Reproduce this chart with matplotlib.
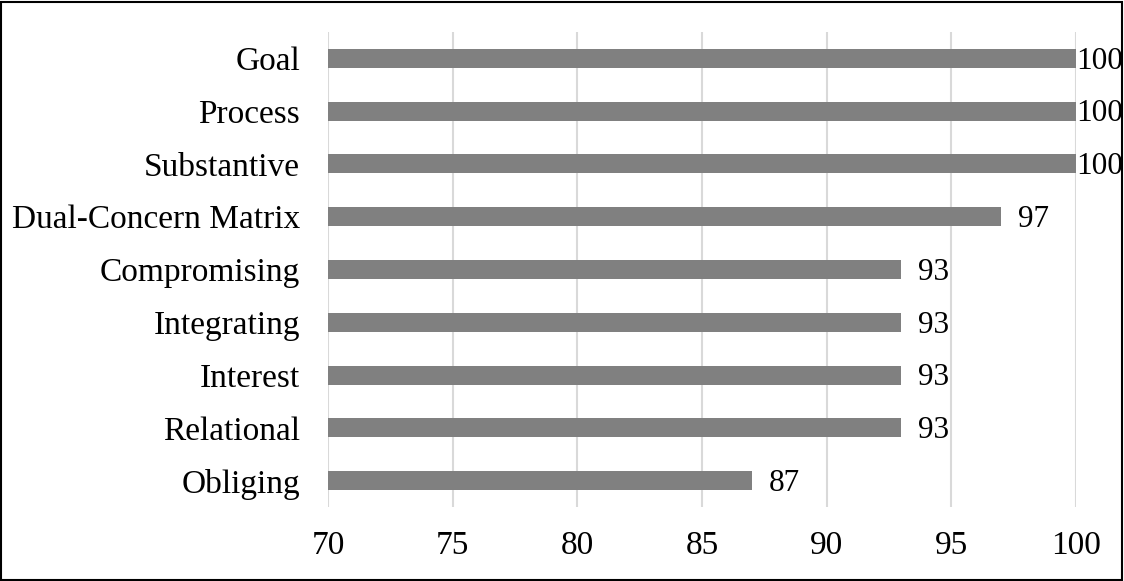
import matplotlib.pyplot as plt
from matplotlib.patches import Rectangle

categories = ['Goal', 'Process', 'Substantive', 'Dual-Concern Matrix', 'Compromising',
              'Integrating', 'Interest', 'Relational', 'Obliging']
values = [100, 100, 100, 97, 93, 93, 93, 93, 87]
xticks = [70, 75, 80, 85, 90, 95, 100]

plt.rcParams['font.family'] = ['Liberation Serif', 'DejaVu Serif']

fig = plt.figure(figsize=(11.24, 5.81), dpi=100)
ax = fig.add_axes([0.2918, 0.1274, 0.6655, 0.8176])

y = list(range(len(categories)))[::-1]
ax.barh(y, [v - 70 for v in values], left=70, height=0.36, color='#808080', zorder=3)

# value labels; the ones at the axis end sit right against the bar
for yi, v in zip(y, values):
    off = 0 if v == 100 else 12
    ax.annotate(str(v), (v, yi), xytext=(off, -2), textcoords='offset points',
                va='center', ha='left', fontsize=22.5)

ax.set_xlim(70, 100)
ax.set_ylim(-0.5, len(categories) - 0.5)
ax.set_xticks(xticks)
ax.set_yticks(y)
ax.set_yticklabels(categories)
ax.tick_params(axis='both', length=0, labelsize=24)
ax.tick_params(axis='y', pad=20)
ax.tick_params(axis='x', pad=17)
ax.grid(axis='x', color='#d9d9d9', linewidth=1.5, zorder=0)
for s in ax.spines.values():
    s.set_visible(False)

fig.patches.append(Rectangle((0.001, 0.002), 0.997, 0.995, transform=fig.transFigure,
                             fill=False, edgecolor='black', linewidth=1.5))

fig.savefig('out.png', dpi=100)
